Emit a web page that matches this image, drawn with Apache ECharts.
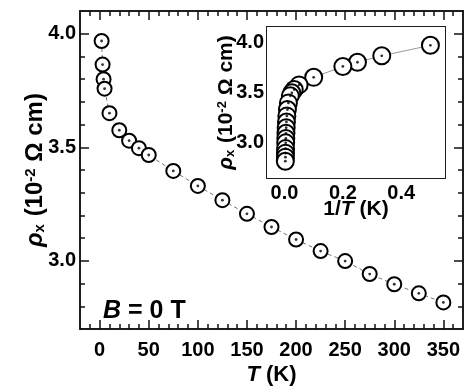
<!DOCTYPE html>
<html>
<head>
<meta charset="utf-8">
<script src="https://cdn.jsdelivr.net/npm/echarts@6/dist/echarts.min.js"></script>
<style>html,body{margin:0;padding:0;background:#fff}#c{width:466px;height:391px}</style>
</head>
<body>
<div id="c"></div>
<script>
// ---- data ----
const temps = [2, 3, 4, 5, 10, 20, 30, 40, 50, 75, 100, 125, 150, 175, 200, 225, 250, 275, 300, 325, 350];
const rho = [3.968, 3.864, 3.800, 3.758, 3.650, 3.575, 3.529, 3.496, 3.466, 3.396, 3.330, 3.267, 3.207, 3.149, 3.094, 3.043, 2.999, 2.942, 2.897, 2.857, 2.817];
const invT = [0.5, 0.3333, 0.25, 0.2, 0.1, 0.05, 0.0333, 0.025, 0.02, 0.0133, 0.01, 0.008, 0.00667, 0.00571, 0.005, 0.00444, 0.004, 0.00364, 0.00333, 0.00308, 0.00286];

// ---- tick labels ----
const mainXTicks = [0, 50, 100, 150, 200, 250, 300, 350];
const mainYTicks = [3.0, 3.5, 4.0];
const insetXTicks = [0.0, 0.2, 0.4];
const insetYTicks = [3.0, 3.5, 4.0];
const mainXMinor = [-10, 10, 20, 30, 40, 60, 70, 80, 90, 110, 120, 130, 140, 160, 170, 180, 190, 210, 220, 230, 240, 260, 270, 280, 290, 310, 320, 330, 340, 360];
const mainYMinor = [2.8, 2.9, 3.1, 3.2, 3.3, 3.4, 3.6, 3.7, 3.8, 3.9];
const insetXMinor = [0.1, 0.3, 0.5];
const insetYMinor = [2.7, 2.8, 2.9, 3.1, 3.2, 3.3, 3.4, 3.6, 3.7, 3.8, 3.9, 4.1];

const FONT = '"Liberation Sans", Arial, Helvetica, sans-serif';
const INK = '#111';

function axis(kind, grid, pos, min, max, ticks, len, labels, labelOpt) {
  const a = {
    type: 'value', gridIndex: grid, position: pos, min: min, max: max,
    axisLine: { show: true, onZero: false, lineStyle: { color: INK, width: 1.5 } },
    axisTick: { show: true, inside: true, length: len, customValues: ticks, lineStyle: { color: INK, width: 1.5 } },
    splitLine: { show: false },
    axisLabel: { show: false }
  };
  if (labels) {
    a.axisLabel = Object.assign({
      show: true, customValues: labels, color: '#000', fontFamily: FONT, fontWeight: 'bold', fontSize: 20
    }, labelOpt || {});
  }
  return a;
}

const yNameRich = function (size, sub) {
  return {
    fontFamily: FONT, fontWeight: 'bold', fontSize: size, color: '#000',
    rich: {
      i: { fontFamily: FONT, fontWeight: 'bold', fontStyle: 'italic', fontSize: size, color: '#000' },
      s: { fontFamily: FONT, fontWeight: 'bold', fontSize: sub, color: '#000', verticalAlign: 'bottom', padding: [0, 1, 0, 0] },
      p: { fontFamily: FONT, fontWeight: 'bold', fontSize: sub, color: '#000', verticalAlign: 'top', padding: [0, 0, 0, 0] },
      n: { fontFamily: FONT, fontWeight: 'bold', fontSize: size, color: '#000' }
    }
  };
};
const yName = '{i|ρ}{s|x}{n| (10}{p|-2}{n| Ω cm)}';

const fmt1 = v => Number(v).toFixed(1);

const xAxes = [
  Object.assign(axis('x', 0, 'bottom', -20, 370, mainXTicks, 9, mainXTicks, { margin: 11 }), {
    name: '{i|T}{n| (K)}', nameLocation: 'middle', nameGap: 35, nameMoveOverlap: false,
    nameTextStyle: { fontFamily: FONT, fontWeight: 'bold', fontSize: 22, color: '#000',
      rich: { i: { fontFamily: FONT, fontWeight: 'bold', fontStyle: 'italic', fontSize: 22, color: '#000' },
              n: { fontFamily: FONT, fontWeight: 'bold', fontSize: 22, color: '#000' } } }
  }),
  axis('x', 0, 'bottom', -20, 370, mainXMinor, 5),
  axis('x', 0, 'top', -20, 370, mainXTicks, 9),
  axis('x', 0, 'top', -20, 370, mainXMinor, 5),
  Object.assign(axis('x', 1, 'bottom', -0.06, 0.55, insetXTicks, 7, insetXTicks, { margin: 5, formatter: fmt1 }), {
    name: '{n|1/}{i|T}{n| (K)}', nameLocation: 'middle', nameGap: 21, nameMoveOverlap: false,
    nameTextStyle: { fontFamily: FONT, fontWeight: 'bold', fontSize: 21, color: '#000',
      rich: { i: { fontFamily: FONT, fontWeight: 'bold', fontStyle: 'italic', fontSize: 21, color: '#000' },
              n: { fontFamily: FONT, fontWeight: 'bold', fontSize: 21, color: '#000' } } }
  }),
  axis('x', 1, 'bottom', -0.06, 0.55, insetXMinor, 4),
  axis('x', 1, 'top', -0.06, 0.55, insetXTicks, 7),
  axis('x', 1, 'top', -0.06, 0.55, insetXMinor, 4)
];

const yAxes = [
  Object.assign(axis('y', 0, 'left', 2.7, 4.1, mainYTicks, 9, mainYTicks, { margin: 4, formatter: fmt1 }), {
    name: yName, nameLocation: 'middle', nameGap: 33, nameRotate: 90, nameMoveOverlap: false, nameTextStyle: yNameRich(24, 15)
  }),
  axis('y', 0, 'left', 2.7, 4.1, mainYMinor, 5),
  axis('y', 0, 'right', 2.7, 4.1, mainYTicks, 9),
  axis('y', 0, 'right', 2.7, 4.1, mainYMinor, 5),
  Object.assign(axis('y', 1, 'left', 2.65, 4.15, insetYTicks, 7, insetYTicks, { margin: 3, formatter: fmt1 }), {
    name: yName, nameLocation: 'middle', nameGap: 30, nameRotate: 90, nameMoveOverlap: false, nameTextStyle: yNameRich(21, 13)
  }),
  axis('y', 1, 'left', 2.65, 4.15, insetYMinor, 4),
  axis('y', 1, 'right', 2.65, 4.15, insetYTicks, 7),
  axis('y', 1, 'right', 2.65, 4.15, insetYMinor, 4)
];

const mainData = temps.map((t, i) => [t, rho[i]]);
const insetData = invT.map((x, i) => [x, rho[i]]);

const option = {
  animation: false,
  backgroundColor: '#fff',
  grid: [
    { left: 80, top: 11, width: 383, height: 325, containLabel: false },
    { left: 267, top: 27, width: 178, height: 151, containLabel: false, show: true, backgroundColor: '#fff', borderWidth: 0, z: 5 }
  ],
  xAxis: xAxes,
  yAxis: yAxes,
  series: [
    { type: 'line', xAxisIndex: 0, yAxisIndex: 0, data: mainData, symbol: 'emptyCircle', symbolSize: 14,
      itemStyle: { color: '#000', borderColor: '#000', borderWidth: 2.6 },
      lineStyle: { color: '#777', width: 1, type: [4, 3] }, z: 3, silent: true },
    { type: 'scatter', xAxisIndex: 0, yAxisIndex: 0, data: mainData, symbol: 'circle', symbolSize: 2.8,
      itemStyle: { color: '#000' }, z: 4, silent: true },
    { type: 'line', xAxisIndex: 4, yAxisIndex: 4, data: insetData, symbol: 'emptyCircle', symbolSize: 17,
      itemStyle: { color: '#000', borderColor: '#000', borderWidth: 2.7 },
      lineStyle: { color: '#999', width: 1 }, z: 6, silent: true },
    { type: 'scatter', xAxisIndex: 4, yAxisIndex: 4, data: insetData, symbol: 'circle', symbolSize: 2.8,
      itemStyle: { color: '#000' }, z: 7, silent: true }
  ],
  graphic: [
    { type: 'text', left: 103, top: 299, z: 10,
      style: { text: '{b|B}{n| = 0 T}', fill: '#000',
        rich: { b: { fontFamily: FONT, fontWeight: 'bold', fontStyle: 'italic', fontSize: 25, fill: '#000' },
                n: { fontFamily: FONT, fontWeight: 'bold', fontSize: 25, fill: '#000' } } } }
  ]
};

const chart = echarts.init(document.getElementById('c'), null, { renderer: 'canvas' });
chart.setOption(option);
</script>
</body>
</html>
